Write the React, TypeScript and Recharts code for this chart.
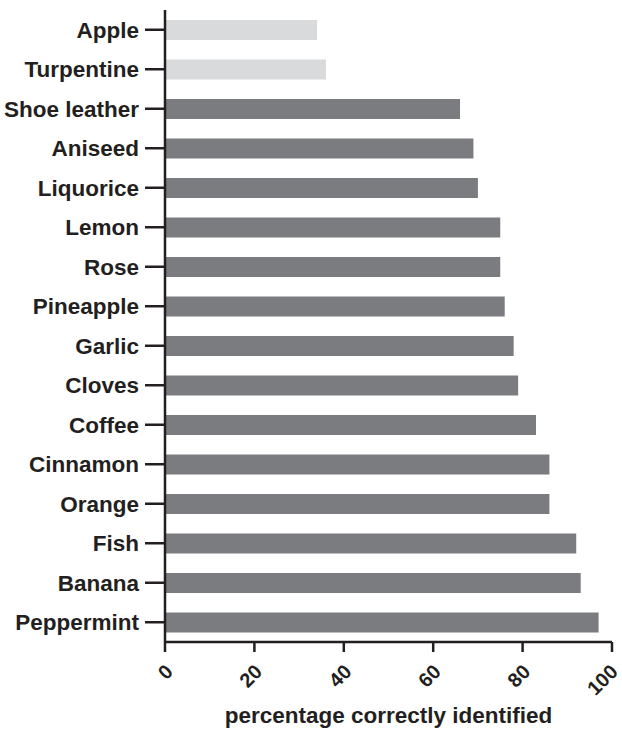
import { BarChart, Bar, XAxis, YAxis, Cell } from "recharts";

const smells = [
  "Apple",
  "Turpentine",
  "Shoe leather",
  "Aniseed",
  "Liquorice",
  "Lemon",
  "Rose",
  "Pineapple",
  "Garlic",
  "Cloves",
  "Coffee",
  "Cinnamon",
  "Orange",
  "Fish",
  "Banana",
  "Peppermint",
];

const percentCorrect = [34, 36, 66, 69, 70, 75, 75, 76, 78, 79, 83, 86, 86, 92, 93, 97];

// first two items are drawn in the pale colour
const faded = ["Apple", "Turpentine"];

const xTicks = [0, 20, 40, 60, 80, 100];

const data = smells.map((name, i) => ({ name, value: percentCorrect[i] }));

const font = "'Liberation Sans', Arial, Helvetica, sans-serif";

function RotatedTick(props: any) {
  const { x, y, payload } = props;
  return (
    <text
      transform={`translate(${x + 9}, ${y + 19}) rotate(-45)`}
      textAnchor="end"
      fontFamily={font}
      fontWeight={700}
      fontSize={20}
      fill="#231f20"
    >
      {payload.value}
    </text>
  );
}

export default function App() {
  return (
    <div style={{ position: "absolute", left: 0, top: 0, width: 622, height: 733, background: "#fff" }}>
      <BarChart
        width={622}
        height={733}
        data={data}
        layout="vertical"
        margin={{ top: 10, right: 10, left: 0, bottom: 0 }}
      >
        <XAxis
          type="number"
          domain={[0, 100]}
          ticks={xTicks}
          height={91}
          tickSize={10}
          tick={<RotatedTick />}
          stroke="#231f20"
          strokeWidth={2.5}
          tickLine={{ stroke: "#231f20", strokeWidth: 2.5 }}
          label={{
            value: "percentage correctly identified",
            position: "insideBottom",
            offset: 10,
            style: { fontFamily: font, fontWeight: 700, fontSize: 22.5, fill: "#231f20" },
          }}
        />
        <YAxis
          type="category"
          dataKey="name"
          width={165}
          tickSize={20}
          tickMargin={6}
          interval={0}
          stroke="#231f20"
          strokeWidth={2.5}
          tickLine={{ stroke: "#231f20", strokeWidth: 2.5 }}
          tick={{ fontFamily: font, fontWeight: 700, fontSize: 22.5, fill: "#231f20" }}
        />
        <Bar dataKey="value" barSize={20} isAnimationActive={false}>
          {data.map((d) => (
            <Cell key={d.name} fill={faded.includes(d.name) ? "#d9dadb" : "#7b7c80"} />
          ))}
        </Bar>
      </BarChart>
    </div>
  );
}
